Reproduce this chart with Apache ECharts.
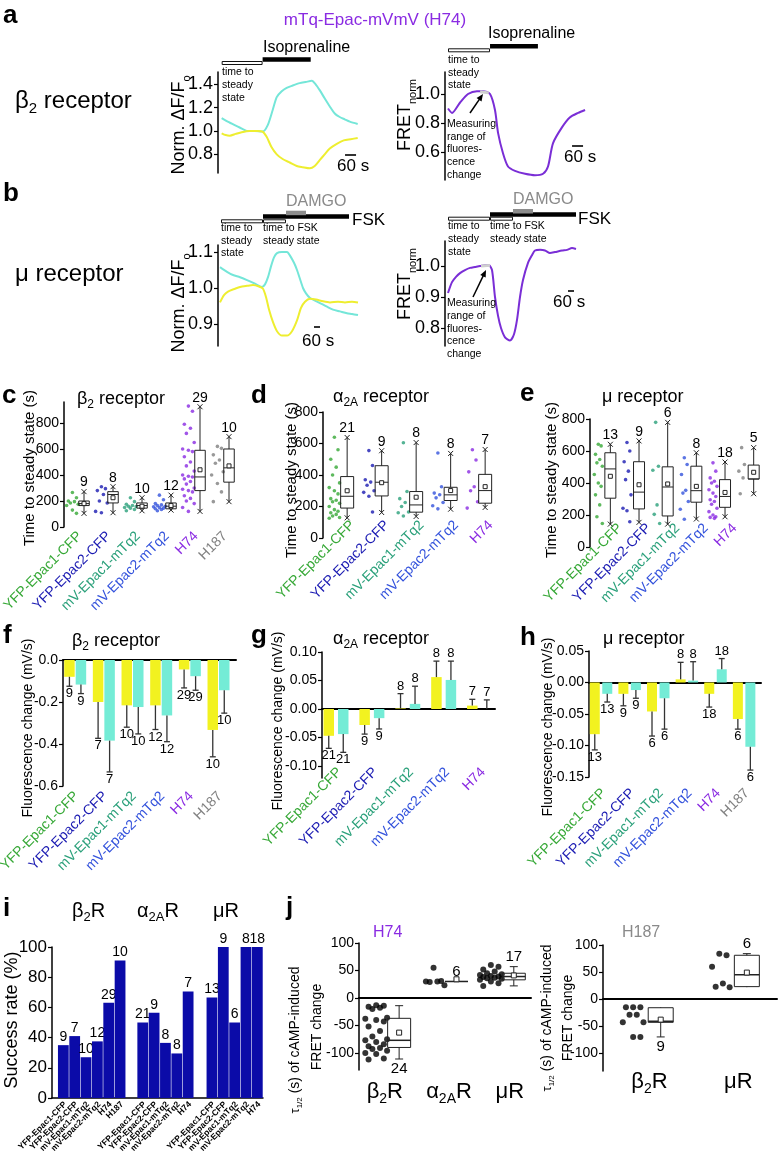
<!DOCTYPE html>
<html>
<head>
<meta charset="utf-8">
<script src="https://cdn.jsdelivr.net/npm/echarts@6.0.0/dist/echarts.min.js"></script>
<style>
html,body{margin:0;padding:0;background:#fff;}
#chart{width:779px;height:1157px;}
</style>
</head>
<body>
<div id="chart"></div>
<script>
// ======================= DATA =======================
// Panel a (beta2 receptor) – time (s), value
const a1CyanTrace = [[0,1.11],[33,1.08],[71,1.05],[98,1.03],[142,1.0],[180,1.0],[223,0.995],[251,1.05],[278,1.18],[300,1.29],[327,1.34],[354,1.37],[387,1.39],[425,1.41],[458,1.42],[491,1.43],[512,1.40],[534,1.35],[561,1.28],[589,1.21],[616,1.15],[643,1.12],[670,1.10],[698,1.08],[741,1.06]];
const a1YellowTrace = [[0,0.98],[22,0.965],[44,0.96],[76,0.975],[109,0.99],[153,1.0],[196,1.0],[223,0.995],[245,0.95],[272,0.86],[300,0.80],[332,0.76],[371,0.73],[409,0.70],[441,0.69],[480,0.68],[507,0.70],[534,0.75],[561,0.80],[589,0.85],[627,0.89],[665,0.92],[703,0.93],[741,0.94]];
const a2FretTrace = [[0,0.90],[22,0.87],[65,0.94],[109,1.0],[158,1.02],[191,1.02],[229,1.0],[256,0.89],[273,0.73],[300,0.59],[327,0.50],[365,0.47],[420,0.45],[474,0.44],[518,0.45],[545,0.50],[572,0.66],[621,0.77],[665,0.84],[709,0.87],[747,0.89]];
const a2MeasureRange = [[175,1.015],[222,1.008]];
const a1Steady = [0, 223], a1Iso = [223, 485], a1Scale = 672;
const a2Steady = [0, 229], a2Iso = [229, 490], a2Scale = 676;
// Panel b (mu receptor)
const b1CyanTrace = [[0,1.058],[70,1.045],[130,1.036],[200,1.03],[270,1.022],[350,1.012],[420,1.003],[450,1.01],[480,1.03],[510,1.06],[540,1.085],[570,1.097],[620,1.1],[670,1.1],[700,1.09],[740,1.07],[770,1.05],[800,1.025],[830,1.0],[860,0.985],[900,0.972],[950,0.965],[1000,0.958],[1070,0.948],[1130,0.94],[1200,0.935],[1270,0.93],[1320,0.928],[1380,0.925]];
const b1YellowTrace = [[0,0.96],[40,0.98],[80,0.99],[150,0.998],[200,1.003],[270,1.006],[330,1.008],[390,1.004],[430,0.998],[460,0.975],[490,0.94],[530,0.905],[570,0.88],[620,0.868],[670,0.868],[720,0.88],[770,0.91],[810,0.945],[850,0.962],[900,0.97],[960,0.968],[1030,0.963],[1100,0.96],[1180,0.962],[1250,0.96],[1320,0.962],[1380,0.96]];
const b2FretTrace = [[0,0.913],[40,0.948],[80,0.965],[120,0.977],[170,0.987],[220,0.994],[270,0.997],[320,1.0],[370,1.002],[410,1.002],[440,0.987],[470,0.9],[500,0.84],[530,0.80],[570,0.77],[620,0.76],[660,0.78],[690,0.826],[720,0.9],[750,0.955],[800,1.01],[840,1.035],[870,1.05],[920,1.052],[970,1.05],[1020,1.042],[1070,1.045],[1140,1.05],[1190,1.052],[1240,1.058],[1280,1.055]];
const b2MeasureRange = [[330,1.0],[420,1.002]];
const b1Steady = [10, 430], b1FskSteady = [430, 660], b1Fsk = [430, 1290], b1Damgo = [660, 860], b1Scale = 940;
const b2Steady = [0, 420], b2FskSteady = [420, 650], b2Fsk = [420, 1280], b2Damgo = [650, 850], b2Scale = 1200;
const scaleSeconds = 60;

// Sensors
const sensorNames = ['YFP-Epac1-CFP','YFP-Epac2-CFP','mV-Epac1-mTq2','mV-Epac2-mTq2','H74','H187'];
const sensorColors = ['#36a836','#1a1ab2','#2aa07a','#3352dc','#8a2be2','#808080'];

// Panel c – time to steady state, beta2 (s)
const cDots = [
  [265,225,200,195,185,175,165,130,105],
  [310,295,280,250,200,185,120,110],
  [225,195,175,165,160,158,150,145,135,125],
  [245,210,180,170,165,160,155,150,145,140,135,125],
  [930,890,790,760,720,650,600,590,580,540,500,470,430,400,390,385,370,350,330,300,290,280,270,240,220,200,180,150,120],
  [620,605,555,515,490,425,400,335,270,195]
];
// [min, q1, median, q3, max, mean]
const cBoxes = [[105,165,180,200,272,180],[110,185,250,272,310,225],[125,145,165,185,225,160],[130,140,160,185,245,165],[120,280,385,590,925,440],[195,345,455,600,695,470]];
const cN = [9,8,10,12,29,10];
// Panel d – alpha2A
const dDots = [
  [640,560,500,450,400,350,320,300,280,250,240,230,220,200,180,170,160,150,140,130,125],
  [555,460,370,355,335,300,290,265,165],
  [605,295,250,225,200,165,160,140],
  [540,325,285,275,255,225,205,185],
  [560,495,420,325,300,230,190]
];
const dBoxes = [[128,190,265,390,638,300],[162,267,354,459,554,351],[137,164,210,295,606,259],[183,238,274,322,537,301],[194,221,301,404,562,326]];
const dN = [21,9,8,8,7];
// Panel e – mu
const eDots = [
  [642,632,579,547,526,505,453,400,379,326,263,189,147],
  [653,600,533,474,421,326,242,227,158],
  [779,505,480,263,204,147],
  [558,516,453,354,337,284,236,173],
  [526,474,432,411,400,379,358,337,316,295,284,267,242,221,200,189,185,179],
  [621,516,474,432,333]
];
const eBoxes = [[143,305,488,589,642,442],[154,238,343,533,663,389],[143,194,375,501,779,394],[175,280,352,505,589,379],[189,248,316,421,531,341],[333,425,425,512,621,467]];
const eN = [13,9,6,8,18,5];

// Panels f-h – fluorescence change (mV/s): yellow (YFP/mV) and cyan (CFP/mTq2) channel
const fYellow = [-0.080,-0.200,-0.216,-0.216,-0.045,-0.333];
const fYellowErr = [0.045,0.173,0.104,0.115,0.088,0.128];
const fCyan = [-0.117,-0.384,-0.224,-0.264,-0.077,-0.144];
const fCyanErr = [0.043,0.149,0.128,0.125,0.067,0.109];
const fN = [9,7,10,12,29,10];
const gYellow = [-0.047,-0.028,0.001,0.056,0.006];
const gYellowErr = [0.022,0.016,0.026,0.028,0.011];
const gCyan = [-0.044,-0.016,0.009,0.051,0.000];
const gCyanErr = [0.032,0.019,0.031,0.033,0.016];
const gN = [21,9,8,8,7];
const hYellow = [-0.082,-0.018,-0.046,0.005,-0.018,-0.058];
const hYellowErr = [0.025,0.019,0.039,0.027,0.021,0.016];
const hCyan = [-0.018,-0.012,-0.025,0.003,0.021,-0.102];
const hCyanErr = [0.013,0.013,0.049,0.030,0.017,0.037];
const hN = [13,9,6,8,18,6];

// Panel i – success rate (%)
const iBeta2 = [35,41,27,37.5,63,91];   const iBeta2N = [9,7,10,12,29,10];
const iAlpha2A = [50,56.5,36.5,29.5,70.5]; const iAlpha2AN = [21,9,8,8,7];
const iMu = [66.5,100,50,100,100];      const iMuN = [13,9,6,8,18];

// Panel j – tau 1/2 (s)
const jReceptors1 = ['β2R','α2AR','μR'];
const jH74Dots = [
  [-13,-14,-16,-18,-20,-36,-38,-40,-43,-52,-60,-70,-75,-77,-80,-84,-88,-91,-93,-96,-100,-102,-110,-112],
  [55,31,30,30,29,23],
  [60,57,52,48,45,43,42,40,39,38,37,36,35,33,30,27,22]
];
const jH74Boxes = [[-111,-90,-77,-37,-14,-63],[30,30,30,30,30,34],[22,33,39,45,57,41]];
const jH74N = [24,6,17];
const jReceptors2 = ['β2R','μR'];
const jH187Dots = [[-15,-15,-15,-29,-29,-43,-43,-70,-70],[84,81,60,29,23,22]];
const jH187Boxes = [[-70,-43,-41,-16,-15,-38],[22,23,45,81,84,49]];
const jH187N = [9,6];

// ======================= STYLE / LAYOUT =======================
const FONT = '"Liberation Sans", Arial, Helvetica, sans-serif';
const CYAN = '#74e6d8', YELLOW = '#eeee30', FPURPLE = '#7a2ed6', PURPLE = '#8a2be2', GRAY = '#8a8a8a';
const BAR_Y = '#f2f220', BAR_C = '#74ecd6', NAVY = '#0b0ba8';
const grids = [], xAxes = [], yAxes = [], series = [], G = [];

function mkPanel(rect, xOpt, yOpt, zeroX) {
  const g = grids.length;
  grids.push({left: rect[0], top: rect[1], width: rect[2], height: rect[3], containLabel: false, outerBoundsMode: 'none'});
  const x = xAxes.length; xAxes.push(Object.assign({gridIndex: g}, xOpt));
  const y = yAxes.length; yAxes.push(Object.assign({gridIndex: g}, yOpt));
  let xz = null;
  if (zeroX) {
    xz = xAxes.length;
    xAxes.push({gridIndex: g, type: 'value', min: xOpt.min, max: xOpt.max, position: 'bottom',
      axisLine: {show: true, onZero: true, lineStyle: {color: '#000', width: 2}},
      axisTick: {show: false}, axisLabel: {show: false}, splitLine: {show: false}});
  }
  return {g, x, y, xz};
}
function yAx(min, max, ticks, fmt, fs, margin) {
  return {type: 'value', min, max,
    axisLine: {show: true, onZero: false, lineStyle: {color: '#000', width: 1.5}},
    axisTick: {show: true, inside: false, length: 4, customValues: ticks, lineStyle: {color: '#000', width: 1.2}},
    axisLabel: {show: true, customValues: ticks, formatter: fmt, fontSize: fs, fontFamily: FONT, color: '#000', margin: margin == null ? 5 : margin,
      showMinLabel: true, showMaxLabel: true},
    splitLine: {show: false}, splitArea: {show: false}, minorTick: {show: false}};
}
function xHidden(min, max) { return {type: 'value', min, max, show: false, splitLine: {show: false}}; }
function xLabels(min, max, positions, labelOf, fs, margin, rotate, rich, bold, offset) {
  return {type: 'value', min, max, position: 'bottom', offset: offset || 0,
    axisLine: {show: false, onZero: false}, axisTick: {show: false}, splitLine: {show: false},
    axisLabel: {show: positions.length > 0, customValues: positions, formatter: labelOf, rotate: rotate, fontSize: fs,
      fontFamily: FONT, fontWeight: bold ? 'bold' : 'normal', color: '#000', margin: margin, rich: rich,
      hideOverlap: false, showMinLabel: true, showMaxLabel: true}};
}
function sensorRich(fs) {
  const r = {};
  sensorColors.forEach((c, i) => { r['c' + i] = {color: c, fontSize: fs, fontFamily: FONT}; });
  return r;
}
function sensorAxis(n, min, max, shift, margin, fs, offset) {
  const pos = [];
  for (let i = 0; i < n; i++) pos.push(i + shift);
  return xLabels(min, max, pos, v => { const i = Math.round(v - shift); return '{c' + i + '|' + sensorNames[i] + '}'; }, fs, margin, 45, sensorRich(fs), false, offset);
}
// main text centred, subscript dropped by `drop`*F below the main baseline
function richSub(F, S, color, drop, S2) {
  drop = drop == null ? 0.2 : drop;
  const H = 2 * (drop * F + 0.18 * S + 0.32 * F);
  const mk = (size, lh, va) => ({fontSize: size, fontFamily: FONT, font: size + 'px ' + FONT, fill: color, color: color, textFill: color, lineHeight: lh, verticalAlign: va, textVerticalAlign: va});
  return {m: mk(F, H, 'middle'), s: mk(S, S, 'bottom'), t: mk(S2 || F, S2 || F, 'middle')};
}
function txt(x, y, text, size, opt) {
  opt = opt || {};
  const color = opt.color || '#000';
  const align = opt.align || 'left';
  G.push({type: 'text', x: x, y: y, rotation: opt.rot || 0, z: 100, silent: true,
    style: {text: text, fill: color, textFill: color, font: (opt.bold ? 'bold ' : '') + size + 'px ' + FONT,
      textAlign: align, align: align, textVerticalAlign: 'middle', verticalAlign: 'middle', rich: opt.rich}});
}
function arrow(x1, y1, x2, y2) {
  const dx = x2 - x1, dy = y2 - y1, L = Math.hypot(dx, dy), ux = dx / L, uy = dy / L, px = -uy, py = ux;
  G.push({type: 'line', z: 100, silent: true, shape: {x1, y1, x2: x2 - ux * 4, y2: y2 - uy * 4}, style: {stroke: '#000', lineWidth: 1.5}});
  G.push({type: 'polygon', z: 100, silent: true, shape: {points: [[x2, y2], [x2 - ux * 7 + px * 3, y2 - uy * 7 + py * 3], [x2 - ux * 7 - px * 3, y2 - uy * 7 - py * 3]]}, style: {fill: '#000'}});
}
function lineS(p, data, color, w) {
  return {type: 'line', xAxisIndex: p.x, yAxisIndex: p.y, data: data, showSymbol: false, symbol: 'none', smooth: 0.25,
    lineStyle: {color: color, width: w || 2}, itemStyle: {color: color}, silent: true, z: 3, animation: false};
}
function annotS(p, items, cfg) {
  return {type: 'custom', xAxisIndex: p.x, yAxisIndex: p.y, data: items, clip: false, silent: true, z: 4,
    renderItem: (params, api) => {
      const t0 = api.value(0), t1 = api.value(1), k = api.value(2);
      const x0 = api.coord([t0, 1])[0], x1 = api.coord([t1, 1])[0];
      if (k === 0) return {type: 'rect', shape: {x: x0 + 0.5, y: cfg.open + 0.5, width: x1 - x0 - 1, height: 3}, style: {fill: '#fff', stroke: '#111', lineWidth: 1}};
      if (k === 1) return {type: 'rect', shape: {x: x0, y: cfg.black, width: x1 - x0, height: 4.5}, style: {fill: '#000'}};
      if (k === 2) return {type: 'rect', shape: {x: x0, y: cfg.gray, width: x1 - x0, height: 4.5}, style: {fill: '#8c8c8c'}};
      return {type: 'line', shape: {x1: x0, y1: cfg.scale, x2: x1, y2: cfg.scale}, style: {stroke: '#000', lineWidth: 1.6}};
    }};
}
const JIT = [0, 0.7, -0.7, 0.35, -0.35, 1, -1];
function dotsS(p, dots, colors, off, spread, size) {
  const data = [];
  dots.forEach((arr, i) => {
    arr.slice().sort((a, b) => b - a).forEach((v, k) => {
      data.push({value: [i + off + JIT[k % JIT.length] * spread, v], itemStyle: {color: colors[i]}});
    });
  });
  return {type: 'scatter', xAxisIndex: p.x, yAxisIndex: p.y, data: data, symbol: 'circle', symbolSize: size, clip: false, silent: true, z: 3, animation: false};
}
function boxS(p, boxes, ns, off, cfg) {
  const data = boxes.map((b, i) => [i + off].concat(b).concat([ns[i]]));
  return {type: 'custom', xAxisIndex: p.x, yAxisIndex: p.y, data: data, clip: false, silent: true, z: 4,
    renderItem: (params, api) => {
      const x = api.value(0);
      const v = [1, 2, 3, 4, 5, 6].map(k => api.value(k));
      const n = api.value(7);
      const Y = val => api.coord([x, val])[1];
      const px = api.coord([x, v[2]])[0];
      const yMin = Y(v[0]), yQ1 = Y(v[1]), yMed = Y(v[2]), yQ3 = Y(v[3]), yMax = Y(v[4]), yMean = Y(v[5]);
      const hw = cfg.w / 2, st = {stroke: '#222', lineWidth: cfg.lw || 1, fill: null};
      const ch = [];
      if (yMax < yQ3) ch.push({type: 'line', shape: {x1: px, y1: yQ3, x2: px, y2: yMax}, style: st});
      if (yMin > yQ1) ch.push({type: 'line', shape: {x1: px, y1: yQ1, x2: px, y2: yMin}, style: st});
      ch.push({type: 'rect', shape: {x: px - hw, y: yQ3, width: 2 * hw, height: Math.max(yQ1 - yQ3, 0.01)}, style: {stroke: '#222', lineWidth: cfg.lw || 1, fill: null}});
      ch.push({type: 'line', shape: {x1: px - hw, y1: yMed, x2: px + hw, y2: yMed}, style: {stroke: '#222', lineWidth: cfg.medLw || (cfg.lw || 1)}});
      const s = cfg.meanS || 4;
      ch.push({type: 'rect', shape: {x: px - s / 2, y: yMean - s / 2, width: s, height: s}, style: {stroke: '#222', lineWidth: 1, fill: '#fff'}});
      [yMin, yMax].forEach(yy => {
        if (cfg.ends === 'x') {
          ch.push({type: 'line', shape: {x1: px - 2.5, y1: yy - 2.5, x2: px + 2.5, y2: yy + 2.5}, style: st});
          ch.push({type: 'line', shape: {x1: px - 2.5, y1: yy + 2.5, x2: px + 2.5, y2: yy - 2.5}, style: st});
        } else if (cfg.ends === 'cap' && Math.abs(yy - (yy === yMin ? yQ1 : yQ3)) > 1) {
          ch.push({type: 'line', shape: {x1: px - cfg.cap / 2, y1: yy, x2: px + cfg.cap / 2, y2: yy}, style: st});
        }
      });
      const below = cfg.belowIfNeg && v[2] < 0;
      ch.push({type: 'text', x: px, y: below ? yMin + 2 : yMax - 2,
        style: {text: String(n), fill: '#000', textFill: '#000', font: cfg.fs + 'px ' + FONT, textAlign: 'center', align: 'center',
          textVerticalAlign: below ? 'top' : 'bottom', verticalAlign: below ? 'top' : 'bottom'}});
      return {type: 'group', children: ch};
    }};
}
function barsS(p, yv, ye, cv, ce, ns, cfg) {
  const data = [];
  yv.forEach((v, i) => data.push([i, v, ye[i], ns[i], 0]));
  cv.forEach((v, i) => data.push([i, v, ce[i], ns[i], 1]));
  return {type: 'custom', xAxisIndex: p.x, yAxisIndex: p.y, data: data, clip: false, silent: true, z: 3,
    renderItem: (params, api) => {
      const g = api.value(0), v = api.value(1), e = api.value(2), n = api.value(3), side = api.value(4);
      const base = api.coord([g, 0]);
      const cx = base[0] + (side ? cfg.off : -cfg.off);
      const y0 = base[1], y1 = api.coord([g, v])[1];
      const dir = v >= 0 ? 1 : -1;
      const ye2 = api.coord([g, v + dir * e])[1];
      const st = {stroke: '#333', lineWidth: 1.3};
      return {type: 'group', children: [
        {type: 'rect', shape: {x: cx - cfg.hw, y: Math.min(y0, y1), width: 2 * cfg.hw, height: Math.abs(y1 - y0)}, style: {fill: side ? BAR_C : BAR_Y}},
        {type: 'line', shape: {x1: cx, y1: y1, x2: cx, y2: ye2}, style: st},
        {type: 'line', shape: {x1: cx - 3, y1: ye2, x2: cx + 3, y2: ye2}, style: st},
        {type: 'text', x: cx, y: dir < 0 ? ye2 + 1 : ye2 - 1, style: {text: String(n), fill: '#000', textFill: '#000', font: cfg.fs + 'px ' + FONT,
          textAlign: 'center', align: 'center', textVerticalAlign: dir < 0 ? 'top' : 'bottom', verticalAlign: dir < 0 ? 'top' : 'bottom'}}
      ]};
    }};
}

// ======================= PANELS =======================
const f1 = v => v.toFixed(1), f2 = v => v.toFixed(2), f0 = v => String(v);
// a1
const pA1 = mkPanel([218, 72, 143, 101], xHidden(-20, 759), yAx(0.64, 1.5056, [0.8, 1.0, 1.2, 1.4], f1, 18));
series.push(lineS(pA1, a1CyanTrace, CYAN), lineS(pA1, a1YellowTrace, YELLOW));
series.push(annotS(pA1, [[a1Steady[0], a1Steady[1], 0], [a1Iso[0], a1Iso[1], 1], [a1Scale, a1Scale + scaleSeconds, 3]], {open: 61, black: 57.3, gray: 0, scale: 155}));
// a2
const pA2 = mkPanel([445, 72, 142, 108], xHidden(-16.4, 757.5), yAx(0.407, 1.152, [0.6, 0.8, 1.0], f1, 18));
series.push(lineS(pA2, a2FretTrace, FPURPLE), lineS(pA2, a2MeasureRange, '#cfcfcf', 3));
series.push(annotS(pA2, [[a2Steady[0], a2Steady[1], 0], [a2Iso[0], a2Iso[1], 1], [a2Scale, a2Scale + scaleSeconds, 3]], {open: 48.3, black: 44, gray: 0, scale: 146}));
// b1
const pB1 = mkPanel([218, 245, 142, 101], xHidden(-20, 1400), yAx(0.8389, 1.1194, [0.9, 1.0, 1.1], f1, 18));
series.push(lineS(pB1, b1CyanTrace, CYAN), lineS(pB1, b1YellowTrace, YELLOW));
series.push(annotS(pB1, [[b1Steady[0], b1Steady[1], 0], [b1Fsk[0], b1Fsk[1], 1], [b1FskSteady[0], b1FskSteady[1], 0], [b1Damgo[0], b1Damgo[1], 2], [b1Scale, b1Scale + scaleSeconds, 3]], {open: 219.3, black: 214.3, gray: 210.7, scale: 327}));
// b2
const pB2 = mkPanel([445, 241, 142, 105], xHidden(-30, 1390), yAx(0.742, 1.0806, [0.8, 0.9, 1.0], f1, 18));
series.push(lineS(pB2, b2FretTrace, FPURPLE), lineS(pB2, b2MeasureRange, '#cfcfcf', 3));
series.push(annotS(pB2, [[b2Steady[0], b2Steady[1], 0], [b2Fsk[0], b2Fsk[1], 1], [b2FskSteady[0], b2FskSteady[1], 0], [b2Damgo[0], b2Damgo[1], 2], [b2Scale, b2Scale + scaleSeconds, 3]], {open: 216.7, black: 212.3, gray: 209, scale: 291}));

// c
const pC = mkPanel([64, 402, 174, 125], sensorAxis(6, -0.5, 5.5, 0.05, 7, 14), yAx(0, 961.5, [0, 200, 400, 600, 800], f0, 14));
series.push(dotsS(pC, cDots, sensorColors, -0.21, 0.2, 3.6), boxS(pC, cBoxes, cN, 0.19, {w: 10.5, ends: 'x', fs: 14}));
// d
const pD = mkPanel([323, 412, 172.5, 126], sensorAxis(5, -0.5, 4.5, 0.36, 2, 14, -17), yAx(0, 800, [0, 200, 400, 600, 800], f0, 14));
series.push(dotsS(pD, dDots, sensorColors, -0.17, 0.15, 3.6), boxS(pD, dBoxes, dN, 0.2, {w: 13, ends: 'x', fs: 14}));
// e
const pE = mkPanel([590, 419, 172, 128], sensorAxis(6, -0.5, 5.5, 0.55, 2, 14, -23), yAx(0, 800, [0, 200, 400, 600, 800], f0, 14));
series.push(dotsS(pE, eDots, sensorColors, -0.21, 0.14, 3.6), boxS(pE, eBoxes, eN, 0.21, {w: 11, ends: 'x', fs: 14}));

// f
const pF = mkPanel([63, 660, 173, 126], sensorAxis(6, -0.425, 5.61, 0.05, 8, 14), yAx(-0.6, 0, [-0.6, -0.4, -0.2, 0], f1, 14), true);
series.push(barsS(pF, fYellow, fYellowErr, fCyan, fCyanErr, fN, {off: 5.75, hw: 5.25, fs: 13}));
// g
const pG = mkPanel([322, 652, 173, 126], sensorAxis(5, -0.39, 4.43, 0.1, 2, 14, -10), yAx(-0.121, 0.1, [-0.1, -0.05, 0, 0.05, 0.1], f2, 14), true);
series.push(barsS(pG, gYellow, gYellowErr, gCyan, gCyanErr, gN, {off: 7.25, hw: 5.25, fs: 13}));
// h
const pH = mkPanel([589, 651, 172, 126], sensorAxis(6, -0.42, 5.59, 0.1, 14, 14), yAx(-0.15, 0.05, [-0.15, -0.1, -0.05, 0, 0.05], f2, 14), true);
series.push(barsS(pH, hYellow, hYellowErr, hCyan, hCyanErr, hN, {off: 6.25, hw: 5, fs: 13}));

// i  (bars + their rotated sensor labels drawn from the same data items)
const iGroupOffsets = [0, 7, 13.1];
const iGroups = [[iBeta2, iBeta2N], [iAlpha2A, iAlpha2AN], [iMu, iMuN]];
const iData = [];
iGroups.forEach((grp, gi) => grp[0].forEach((v, k) => {
  iData.push([iGroupOffsets[gi] + k, v, grp[1][k], k]);
}));
const pI = mkPanel([52, 947, 211, 151], xLabels(-1, 17.6, [], null, 8, 3, 0), yAx(0, 100, [0, 20, 40, 60, 80, 100], f0, 17));
xAxes[pI.x].axisLine = {show: true, onZero: false, lineStyle: {color: '#000', width: 1.5}};
series.push({type: 'custom', xAxisIndex: pI.x, yAxisIndex: pI.y, data: iData, clip: false, silent: true, z: 3,
  renderItem: (params, api) => {
    const x = api.value(0), v = api.value(1), n = api.value(2), k = api.value(3);
    const p0 = api.coord([x - 0.475, v]), p1 = api.coord([x + 0.475, 0]);
    const cx = (p0[0] + p1[0]) / 2;
    return {type: 'group', children: [
      {type: 'rect', shape: {x: p0[0], y: p0[1], width: p1[0] - p0[0], height: p1[1] - p0[1]}, style: {fill: NAVY}},
      {type: 'text', x: cx, y: p0[1] - 1, style: {text: String(n), fill: '#000', textFill: '#000', font: '14px ' + FONT, textAlign: 'center', align: 'center', textVerticalAlign: 'bottom', verticalAlign: 'bottom'}},
      {type: 'text', x: cx + 2, y: p1[1] + 5, rotation: Math.PI / 4, style: {text: sensorNames[k], fill: '#000', textFill: '#000', font: 'bold 8.5px ' + FONT, textAlign: 'right', align: 'right', textVerticalAlign: 'middle', verticalAlign: 'middle'}}
    ]};
  }});

// j1
const jRich = richSub(22, 14, '#000', 0.2);
const recLabel = s => s === 'β2R' ? '{m|β}{s|2}{m|R}' : (s === 'α2AR' ? '{m|α}{s|2A}{m|R}' : '{m|' + s + '}');
const j1Shift = [-0.05, 0.07, 0.13];
const pJ1 = mkPanel([359, 943, 172, 127],
  xLabels(-0.5, 2.5, [0, 1, 2].map(i => i + j1Shift[i]), v => recLabel(jReceptors1[Math.round(v)]), 22, 8, 0, jRich),
  yAx(-131, 100, [-100, -50, 0, 50, 100], f0, 14), true);
series.push(dotsS(pJ1, jH74Dots, ['#000', '#000', '#000'], -0.2, 0.19, 6), boxS(pJ1, jH74Boxes, jH74N, 0.2, {w: 23, ends: 'cap', cap: 8, fs: 15, belowIfNeg: true, meanS: 5, medLw: 1.5}));
// j2
const j2Shift = [0.03, 0.06];
const pJ2 = mkPanel([603, 945, 174, 126],
  xLabels(-0.51, 1.51, [0, 1].map(i => i + j2Shift[i]), v => recLabel(jReceptors2[Math.round(v)]), 22, 2, 0, jRich, false, -5),
  yAx(-133, 100, [-100, -50, 0, 50, 100], f0, 14), true);
series.push(dotsS(pJ2, jH187Dots, ['#000', '#000'], -0.16, 0.12, 6), boxS(pJ2, jH187Boxes, jH187N, 0.16, {w: 25, ends: 'cap', cap: 8, fs: 15, belowIfNeg: true, meanS: 5, medLw: 1.5}));

// ======================= TEXT =======================
const R90 = Math.PI / 2;
[['a', 3, 16], ['b', 3, 194], ['c', 2, 396], ['d', 251, 396], ['e', 520, 394], ['f', 3, 636], ['g', 251, 636], ['h', 520, 638], ['i', 3, 909], ['j', 286, 908]]
  .forEach(([t, x, y]) => txt(x, y, t, 26, {bold: true}));
txt(375, 20, 'mTq-Epac-mVmV (H74)', 17, {color: PURPLE, align: 'center'});
txt(15, 101, '{m|β}{s|2}{m| receptor}', 24, {rich: richSub(24, 15, '#000', 0.2)});
txt(15, 274, 'μ receptor', 24);
txt(263, 47.5, 'Isoprenaline', 16); txt(488, 33.5, 'Isoprenaline', 16);
[['time to', 72], ['steady', 85], ['state', 98]].forEach(([t, y]) => txt(222, y, t, 10.5));
[['time to', 60], ['steady', 73], ['state', 85]].forEach(([t, y]) => txt(448, y, t, 10.5));
[['Measuring', 124], ['range of', 137], ['fluores-', 149.5], ['cence', 162], ['change', 175]].forEach(([t, y]) => txt(447, y, t, 10.5));
arrow(470, 113, 483, 94);
txt(286, 201.5, 'DAMGO', 16, {color: GRAY}); txt(513, 199.5, 'DAMGO', 16, {color: GRAY});
txt(352, 220, 'FSK', 17); txt(578, 219, 'FSK', 17);
[['time to', 228], ['steady', 241], ['state', 253]].forEach(([t, y]) => txt(221, y, t, 10.5));
[['time to FSK', 228], ['steady state', 241]].forEach(([t, y]) => txt(263, y, t, 10.5));
[['time to', 226], ['steady', 239], ['state', 252]].forEach(([t, y]) => txt(448, y, t, 10.5));
[['time to FSK', 226], ['steady state', 239]].forEach(([t, y]) => txt(490, y, t, 10.5));
[['Measuring', 303], ['range of', 316], ['fluores-', 329], ['cence', 341], ['change', 354]].forEach(([t, y]) => txt(447, y, t, 10.5));
arrow(473, 297, 486, 270);
txt(337, 166, '60 s', 17); txt(564, 157, '60 s', 17); txt(302, 341, '60 s', 17); txt(553, 302, '60 s', 17);
const normRich = richSub(18, 11, '#000', 0.3);
txt(179, 125, '{m|Norm. ΔF/F}{s|o}', 18, {rot: R90, align: 'center', rich: normRich});
txt(179, 303, '{m|Norm. ΔF/F}{s|o}', 18, {rot: R90, align: 'center', rich: normRich});
txt(405, 115, '{m|FRET}{s|norm}', 18, {rot: R90, align: 'center', rich: normRich});
txt(405, 284, '{m|FRET}{s|norm}', 18, {rot: R90, align: 'center', rich: normRich});
txt(30, 468, 'Time to steady state (s)', 15, {rot: R90, align: 'center'});
txt(292, 480, 'Time to steady state (s)', 15, {rot: R90, align: 'center'});
txt(552, 480, 'Time to steady state (s)', 15, {rot: R90, align: 'center'});
txt(28, 728, 'Fluorescence change (mV/s)', 14, {rot: R90, align: 'center'});
txt(278, 721, 'Fluorescence change (mV/s)', 14, {rot: R90, align: 'center'});
txt(548, 727, 'Fluorescence change (mV/s)', 14, {rot: R90, align: 'center'});
txt(12, 1020, 'Success rate (%)', 18, {rot: R90, align: 'center'});
const tauRich = richSub(14, 8, '#000', 0.2, 13);
txt(295, 1040, '{t|τ}{s|1/2}{m| (s) of cAMP-induced}', 14, {rot: R90, align: 'center', rich: tauRich});
txt(317, 1027, 'FRET change', 14, {rot: R90, align: 'center'});
txt(547, 1018, '{t|τ}{s|1/2}{m| (s) of cAMP-induced}', 14, {rot: R90, align: 'center', rich: tauRich});
txt(568, 1018, 'FRET change', 14, {rot: R90, align: 'center'});
const t18 = richSub(18, 12, '#000', 0.2);
txt(77, 399, '{m|β}{s|2}{m| receptor}', 18, {rich: t18});
txt(333, 397, '{m|α}{s|2A}{m| receptor}', 18, {rich: t18});
txt(602, 397, 'μ receptor', 18);
txt(72, 641, '{m|β}{s|2}{m| receptor}', 18, {rich: t18});
txt(333, 639, '{m|α}{s|2A}{m| receptor}', 18, {rich: t18});
txt(603, 639, 'μ receptor', 18);
const t20 = richSub(20, 13, '#000', 0.2);
txt(72, 911, '{m|β}{s|2}{m|R}', 20, {rich: t20});
txt(137, 911, '{m|α}{s|2A}{m|R}', 20, {rich: t20});
txt(213, 911, 'μR', 20);
txt(373, 933, 'H74', 16, {color: PURPLE});
txt(622, 933, 'H187', 16, {color: GRAY});

const chart = echarts.init(document.getElementById('chart'), null, {renderer: 'canvas', width: 779, height: 1157});
chart.setOption({animation: false, backgroundColor: '#fff', grid: grids, xAxis: xAxes, yAxis: yAxes, series: series, graphic: G});
</script>
</body>
</html>
